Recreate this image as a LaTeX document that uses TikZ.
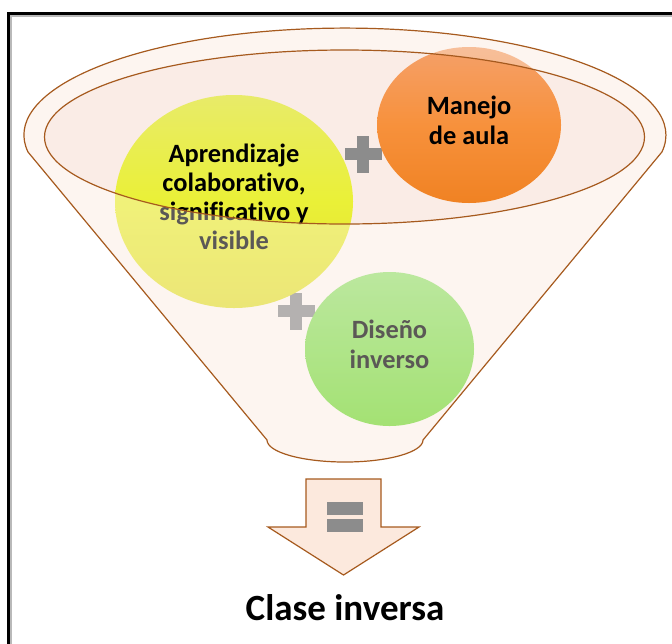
\documentclass[tikz,border=0pt]{standalone}
\usepackage{fontspec}
\setmainfont{Carlito}[Ligatures=NoCommon]
\usetikzlibrary{shapes.geometric}

\definecolor{funnelline}{RGB}{166,90,30}
\definecolor{funnelfill}{RGB}{253,245,240}
\definecolor{innerfill}{RGB}{250,236,230}
\definecolor{arrowfill}{RGB}{252,233,221}
\definecolor{signgray}{RGB}{140,140,140}
\definecolor{yeltop}{RGB}{232,235,105}
\definecolor{yelmid}{RGB}{234,240,55}
\definecolor{yelbot}{RGB}{226,222,50}
\definecolor{orgtop}{RGB}{245,160,105}
\definecolor{orgmid}{RGB}{247,145,60}
\definecolor{orgbot}{RGB}{240,130,35}
\definecolor{grntop}{RGB}{151,225,113}
\definecolor{grnbot}{RGB}{114,215,46}

\begin{document}
\begin{tikzpicture}[x=0.5pt, y=-0.5pt]
\tikzset{ inner sep=0pt, outer sep=0pt,
  bubble/.style={ellipse, shading=axis},
  bubbletext/.style={align=center, text=black, yshift=2.3pt,
                     font=\bfseries\fontsize{13.2}{14.6}\selectfont},
  rim/.style={funnelline, line width=0.6pt},
}

\useasboundingbox (0,0) rectangle (672,643);
%\draw [lightgray, dashed](0,0) grid[step=50] (672,643);

% frame
\draw [gray!55, line width=1pt] (10.5,660) -- (10.5,15.5) -- (690,15.5);
\draw [black, line width=1.25pt] (8.5,660) -- (8.5,13.5) -- (690,13.5);

% funnel, back
\fill [funnelfill] (28,152) arc [start angle=170.9, end angle=369.1, x radius=321, y radius=107]
  -- (423,440) arc [start angle=0, end angle=180, x radius=78, y radius=22] -- cycle;
\fill [innerfill] (344.5,137) ellipse [x radius=300, y radius=87];

% plus signs
\fill [signgray] (344.5,148) rectangle (381.5,160);
\fill [signgray] (357,135.5) rectangle (369,172.5);
\fill [signgray] (277.5,305) rectangle (314.5,317);
\fill [signgray] (290,292.5) rectangle (302,329.5);

\node [bubble, minimum width=119pt, minimum height=106.5pt,
       top color=yeltop, bottom color=yelbot, middle color=yelmid] (A) at (234,201.5) {};
\node [bubble, minimum width=92pt, minimum height=78pt,
       top color=orgtop, bottom color=orgbot, middle color=orgmid] (M) at (469,125) {};
\node [bubble, minimum width=84.5pt, minimum height=77pt,
       top color=grntop, bottom color=grnbot] (D) at (389.5,349) {};

\node [bubbletext] (At) at (A) {Aprendizaje\\colaborativo,\\significativo y\\visible};
\node [bubbletext] (Mt) at (M) {Manejo\\de aula};
\node [bubbletext] (Dt) at (D) {Diseño\\inverso};

% funnel, front
\fill [funnelfill, opacity=0.36, even odd rule] (28,152)
  arc [start angle=170.9, end angle=369.1, x radius=321, y radius=107]
  -- (423,440) arc [start angle=0, end angle=180, x radius=78, y radius=22] -- cycle
  (344.5,137) ellipse [x radius=300, y radius=87];
\draw [rim] (28,152) arc [start angle=170.9, end angle=369.1, x radius=321, y radius=107]
  -- (423,440) arc [start angle=0, end angle=180, x radius=78, y radius=22] -- cycle;
\draw [rim] (344.5,137) ellipse [x radius=300, y radius=87];

% arrow
\draw [rim, fill=arrowfill] (306,479) -- (381,479) -- (381,527) -- (419,527)
  -- (343.5,575) -- (268,527) -- (306,527) -- cycle;
\fill [signgray] (327,502) rectangle (363,515);
\fill [signgray] (327,519) rectangle (363,532);

\node [anchor=base, font=\bfseries\fontsize{18.5}{21}\selectfont] (C) at (345,620) {Clase inversa};
\end{tikzpicture}
\end{document}
